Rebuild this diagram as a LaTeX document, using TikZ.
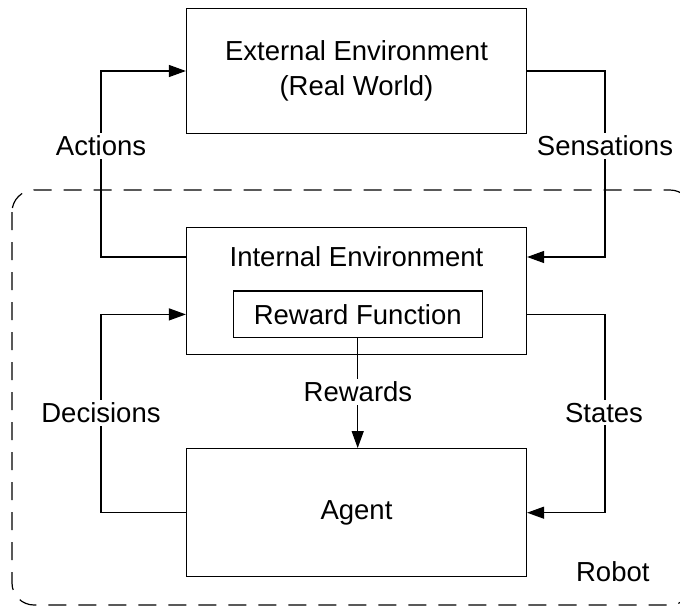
\documentclass[tikz,border=0pt]{standalone}
\usepackage{fontspec}
\setmainfont{Liberation Sans}
\usetikzlibrary{arrows.meta}
\begin{document}
\begin{tikzpicture}[x=1pt,y=-1pt,
  line width=1.2pt,
  box/.style={draw,rectangle,minimum width=340pt,inner sep=0pt},
  lbl/.style={font=\fontsize{27.5}{35}\selectfont,inner sep=0pt,align=center},
  tag/.style={lbl,fill=white,inner sep=3pt},
  arr/.style={-{Triangle[length=17pt,width=12pt]}},
  robotbox/.style={draw,dash pattern=on 18pt off 12pt,rounded corners=22pt,line width=1.2pt}]
\useasboundingbox (0,0) rectangle (680,608);
\begin{scope}
\clip (0,0) rectangle (680,608);
\draw[robotbox] (12,190) rectangle (692,605);
\end{scope}
% boxes
\node[box,minimum height=125pt,lbl] (ext) at (356.5,71) {External Environment\\(Real World)};
\node[box,minimum height=127.4pt] (int) at (356.5,291) {};
\node[lbl] (intlabel) at (356.5,257) {Internal Environment};
\node[box,minimum width=249pt,minimum height=46.7pt,lbl] (rf) at (357.7,314.4) {Reward Function};
\node[box,minimum height=128pt,lbl] (agent) at (356.5,512.7) {Agent};
\node[lbl] (robot) at (612.8,571.7) {Robot};
\coordinate (lx) at (101,0);
\coordinate (rx) at (605,0);
% connectors
\draw[arr] (int.west |- intlabel) -- (lx |- intlabel) -- (lx |- ext.west) -- (ext.west);
\draw[arr] (ext.east) -- (rx |- ext.east) -- (rx |- intlabel) -- (int.east |- intlabel);
\draw[arr] (agent.west) -- (lx |- agent.west) -- (lx |- rf) -- (int.west |- rf);
\draw[arr] (int.east |- rf) -- (rx |- rf) -- (rx |- agent.east) -- (agent.east);
\draw[arr] (rf.south) -- (rf.south |- agent.north);
% labels
\node[tag] (actions) at (101,146) {Actions};
\node[tag] (sensations) at (605,146) {Sensations};
\node[tag] (decisions) at (101,412.7) {Decisions};
\node[tag] (states) at (604,412.7) {States};
\node[tag] (rewards) at (358,391.7) {Rewards};
\end{tikzpicture}
\end{document}
